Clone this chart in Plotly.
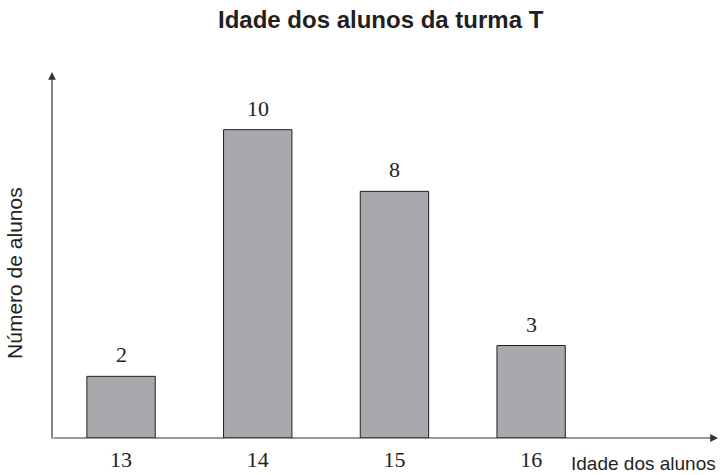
import plotly.graph_objects as go

idades = [13, 14, 15, 16]
alunos = [2, 10, 8, 3]
tick_labels = ["13", "14", "15", "16"]
titulo = "Idade dos alunos da turma T"
x_titulo = "Idade dos alunos"
y_titulo = "Número de alunos"

serif = "Liberation Serif, Times New Roman, serif"
sans = "Liberation Sans, Arial, sans-serif"
ink = "#231f20"

fig = go.Figure()
fig.add_trace(go.Bar(
    x=idades, y=alunos, width=0.5,
    marker=dict(color="#a7a9ac", line=dict(color=ink, width=1)),
    hoverinfo="skip",
))

annotations = []
for xv, yv in zip(idades, alunos):
    annotations.append(dict(x=xv, y=yv, text=str(yv), showarrow=False,
                            xref="x", yref="y", yanchor="bottom", yshift=7,
                            font=dict(family=serif, size=22, color=ink)))

# axis arrows
annotations.append(dict(xref="paper", yref="paper", x=1, y=0, ax=-666, ay=0,
                        axref="pixel", ayref="pixel", text="", showarrow=True,
                        arrowhead=2, arrowsize=1.3, arrowwidth=1.2, arrowcolor="#333333"))
annotations.append(dict(xref="paper", yref="paper", x=0, y=1, ax=0, ay=368,
                        axref="pixel", ayref="pixel", text="", showarrow=True,
                        arrowhead=2, arrowsize=1.3, arrowwidth=1.2, arrowcolor="#333333"))
annotations.append(dict(xref="paper", yref="paper", x=1, y=0, xanchor="right",
                        yanchor="top", yshift=-13, text=x_titulo, showarrow=False,
                        font=dict(family=sans, size=19, color=ink)))
annotations.append(dict(xref="paper", yref="paper", x=0, y=0.451, xshift=-37,
                        xanchor="center", yanchor="middle",
                        textangle=-90, text=y_titulo, showarrow=False,
                        font=dict(family=sans, size=21, color=ink)))

fig.update_layout(
    width=721, height=475,
    margin=dict(l=52, r=3, t=72, b=35),
    paper_bgcolor="white", plot_bgcolor="white",
    showlegend=False,
    title=dict(text="<b>" + titulo + "</b>", x=0.528, xanchor="center",
               y=0.958, yanchor="middle", yref="container",
               font=dict(family=sans, size=24, color=ink)),
    xaxis=dict(range=[12.495, 17.367], tickvals=idades, ticktext=tick_labels,
               showgrid=False, zeroline=False, showline=False, ticks="",
               tickfont=dict(family=serif, size=22, color=ink),
               ticklabelstandoff=6, fixedrange=True),
    yaxis=dict(range=[0, 11.87], showgrid=False, zeroline=False, showline=False,
               showticklabels=False, ticks="", fixedrange=True),
    annotations=annotations,
)

fig.write_html("out.html", config={"displayModeBar": False},
               post_script="document.body.style.margin='0';document.body.style.padding='0';")
